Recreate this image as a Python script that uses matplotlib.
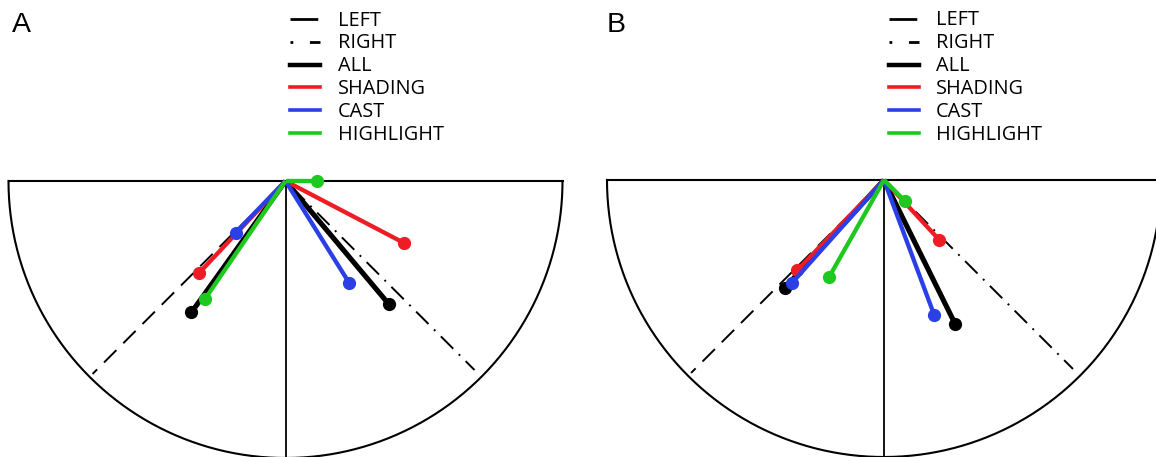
import numpy as np
import matplotlib
matplotlib.use("Agg")
import matplotlib.pyplot as plt
from matplotlib.lines import Line2D

# ---------------- data ----------------
conditions = ["ALL", "SHADING", "CAST", "HIGHLIGHT"]
colors = ["#000000", "#ee1c24", "#2a3fe6", "#1ec81e"]

# angles in degrees (0 = right, -90 = straight down), lengths relative to radius
A_left_angle = [-125.6, -133.2, -134.0, -124.3]
A_left_len = [0.583, 0.455, 0.259, 0.515]
A_right_angle = [-50.0, -27.6, -58.0, 0.0]
A_right_len = [0.579, 0.484, 0.434, 0.114]

B_left_angle = [-132.6, -133.9, -131.8, -119.5]
B_left_len = [0.530, 0.451, 0.501, 0.401]
B_right_angle = [-63.7, -47.3, -69.6, -45.0]
B_right_len = [0.578, 0.293, 0.519, 0.106]

legend_labels = ["LEFT", "RIGHT", "ALL", "SHADING", "CAST", "HIGHLIGHT"]
panel_labels = ["A", "B"]

# ---------------- layout ----------------
W, H = 1156, 457
R = 277.0
centers = [(285.5, 181.0), (884.0, 180.0)]
fig = plt.figure(figsize=(W / 100, H / 100), dpi=100)
fig.patch.set_facecolor("white")

RIGHT_LS = (0, (1, 4, 9, 4))


def draw_panel(ax, left_ang, left_len, right_ang, right_len, label, cx_off, label_x):
    th = np.linspace(np.pi, 2 * np.pi, 400)
    ax.plot(np.cos(th), np.sin(th), color="black", lw=1.5, zorder=1)
    ax.plot([-1, 1], [0, 0], color="black", lw=1.5, zorder=1)
    ax.plot([0, 0], [0, -1], color="black", lw=1.3, zorder=1)
    a = np.deg2rad(-135)
    ax.plot([0, 0.985 * np.cos(a)], [0, 0.985 * np.sin(a)], color="black",
            lw=1.4, linestyle=(3, (9, 5)), zorder=1)
    a = np.deg2rad(-45)
    ax.plot([0, 0.965 * np.cos(a)], [0, 0.965 * np.sin(a)], color="black",
            lw=1.4, linestyle=RIGHT_LS, zorder=1)
    for i, c in enumerate(colors):
        lw = 3.7 if i == 0 else 3.1
        for ang, ln in ((left_ang[i], left_len[i]), (right_ang[i], right_len[i])):
            t = np.deg2rad(ang)
            x, y = ln * np.cos(t), ln * np.sin(t)
            ax.plot([0, x], [0, y], color=c, lw=lw, solid_capstyle="butt", zorder=2 + i)
            ax.plot([x], [y], marker="o", ms=8.5, color=c, mec=c, zorder=2 + i)

    handles = [
        Line2D([], [], color="black", lw=2.0, linestyle=(0, (10, 20))),
        Line2D([], [], color="black", lw=2.0, linestyle=(0, (1, 6, 10, 2))),
        Line2D([], [], color="black", lw=3.2),
        Line2D([], [], color=colors[1], lw=2.6),
        Line2D([], [], color=colors[2], lw=2.6),
        Line2D([], [], color=colors[3], lw=2.6),
    ]
    ax.legend(handles, legend_labels, loc="upper left",
              bbox_to_anchor=(4.5 / R, (cx_off[1] - 10.5) / R),
              bbox_transform=ax.transData, frameon=False,
              prop={"family": "Open Sans", "size": 14.3},
              handlelength=1.52, handletextpad=0.88, labelspacing=0.15,
              borderpad=0, borderaxespad=0)
    ax.text(label_x, 1 - 12 / H, label, transform=ax.transAxes, fontsize=20.5,
            family="Liberation Sans", va="top", ha="left")


for k, (cx, cy) in enumerate(centers):
    x0 = 0 if k == 0 else W / 2
    ax = fig.add_axes([x0 / W, 0, 0.5, 1])
    ax.set_xlim((x0 - cx) / R, (x0 + W / 2 - cx) / R)
    ax.set_ylim((cy - H) / R, cy / R)
    ax.axis("off")
    lx = (12 if k == 0 else 607 - W / 2) / (W / 2)
    if k == 0:
        draw_panel(ax, A_left_angle, A_left_len, A_right_angle, A_right_len,
                   panel_labels[0], (cx, cy), lx)
    else:
        draw_panel(ax, B_left_angle, B_left_len, B_right_angle, B_right_len,
                   panel_labels[1], (cx, cy), lx)

fig.savefig("out.png", dpi=100, facecolor="white")
